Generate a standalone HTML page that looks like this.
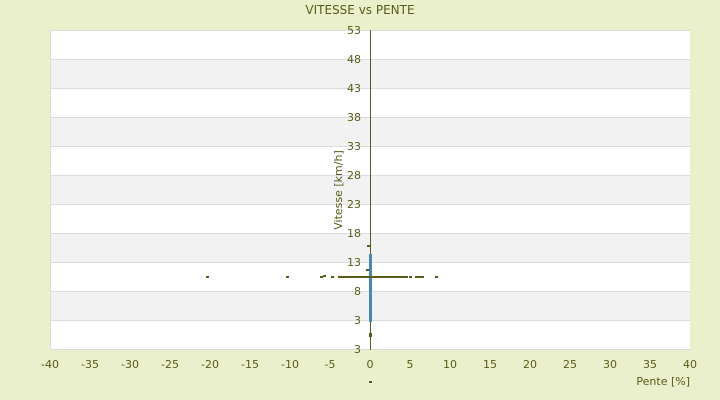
<!DOCTYPE html>
<html><head><meta charset="utf-8"><style>
body{margin:0;background:#ebf0cc;}
svg{display:block;font-family:"DejaVu Sans",sans-serif;}
</style></head><body>
<svg width="720" height="400" xmlns="http://www.w3.org/2000/svg">
<rect width="720" height="400" fill="#ebf0cc"/>
<text x="360" y="14" font-size="12" fill="#5a5a1a" text-anchor="middle">VITESSE vs PENTE</text>
<g>
<rect x="50" y="30" width="640" height="320" fill="#fff"/>
<rect x="50" y="59" width="640" height="29" fill="#f2f2f2"/>
<rect x="50" y="117" width="640" height="29" fill="#f2f2f2"/>
<rect x="50" y="175" width="640" height="29" fill="#f2f2f2"/>
<rect x="50" y="233" width="640" height="29" fill="#f2f2f2"/>
<rect x="50" y="291" width="640" height="29" fill="#f2f2f2"/>
<g stroke="#dcdcdc" stroke-width="1">
<line x1="50" y1="30.5" x2="690" y2="30.5"/><line x1="50" y1="59.5" x2="690" y2="59.5"/>
<line x1="50" y1="88.5" x2="690" y2="88.5"/><line x1="50" y1="117.5" x2="690" y2="117.5"/>
<line x1="50" y1="146.5" x2="690" y2="146.5"/><line x1="50" y1="175.5" x2="690" y2="175.5"/>
<line x1="50" y1="204.5" x2="690" y2="204.5"/><line x1="50" y1="233.5" x2="690" y2="233.5"/>
<line x1="50" y1="262.5" x2="690" y2="262.5"/><line x1="50" y1="291.5" x2="690" y2="291.5"/>
<line x1="50" y1="320.5" x2="690" y2="320.5"/><line x1="50" y1="349.5" x2="690" y2="349.5"/>
<line x1="50.5" y1="30" x2="50.5" y2="350"/>
</g>
</g>
<line x1="370.5" y1="30" x2="370.5" y2="350" stroke="#5a5a1a" stroke-width="1"/>
<g font-size="11" fill="#5a5a1a" text-anchor="end">
<text x="361" y="34">53</text><text x="361" y="63">48</text><text x="361" y="92">43</text>
<text x="361" y="121">38</text><text x="361" y="150">33</text><text x="361" y="179">28</text>
<text x="361" y="208">23</text><text x="361" y="237">18</text><text x="361" y="266">13</text>
<text x="361" y="295">8</text><text x="361" y="324">3</text><text x="361" y="353">3</text>
</g>
<text transform="translate(342,190) rotate(-90)" font-size="11" fill="#5a5a1a" text-anchor="middle">Vitesse [km/h]</text>
<g font-size="11" fill="#5a5a1a" text-anchor="middle">
<text x="50" y="368">-40</text><text x="90" y="368">-35</text><text x="130" y="368">-30</text>
<text x="170" y="368">-25</text><text x="210" y="368">-20</text><text x="250" y="368">-15</text>
<text x="290" y="368">-10</text><text x="330" y="368">-5</text><text x="370" y="368">0</text>
<text x="410" y="368">5</text><text x="450" y="368">10</text><text x="490" y="368">15</text>
<text x="530" y="368">20</text><text x="570" y="368">25</text><text x="610" y="368">30</text>
<text x="650" y="368">35</text><text x="690" y="368">40</text>
</g>
<text x="690" y="385" font-size="11" fill="#5a5a1a" text-anchor="end">Pente [%]</text>
<rect x="369" y="254" width="3" height="68" fill="#4a86b8"/>
<rect x="369" y="333" width="3" height="4" fill="#5a5a1a"/>
<g fill="#5a5a1a">
<rect x="206" y="276" width="3" height="2"/><rect x="286" y="276" width="3" height="2"/>
<rect x="320" y="276" width="3" height="2"/><rect x="323" y="275" width="3" height="2"/>
<rect x="331" y="276" width="3" height="2"/>
<rect x="338" y="276" width="70" height="2"/>
<rect x="409" y="276" width="3" height="2"/><rect x="415" y="276" width="3" height="2"/>
<rect x="418" y="276" width="3" height="2"/><rect x="421" y="276" width="3" height="2"/>
<rect x="435" y="276" width="3" height="2"/>
<rect x="366" y="269" width="3" height="2"/><rect x="367" y="245" width="3" height="2"/>
<rect x="369" y="381" width="3" height="2"/>
</g>
</svg>
</body></html>
